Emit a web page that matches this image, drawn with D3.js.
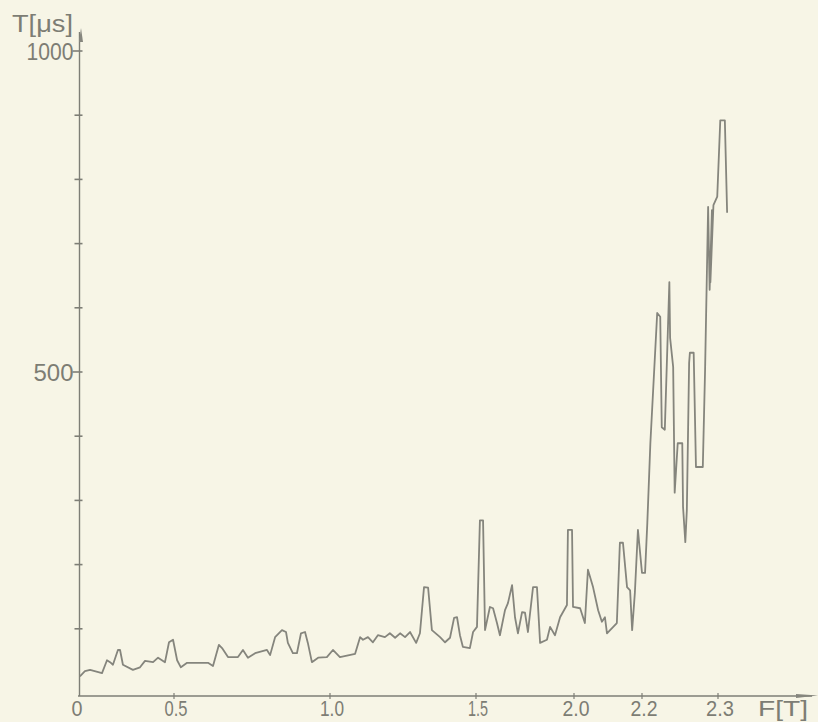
<!DOCTYPE html>
<html>
<head>
<meta charset="utf-8">
<script src="https://cdn.jsdelivr.net/npm/d3@7"></script>
<style>
  html, body { margin: 0; padding: 0; background: #f7f5e6; }
  svg { display: block; }
  text { font-family: "Liberation Sans", "DejaVu Sans", sans-serif; fill: #7d7d74; }
</style>
</head>
<body>
<div id="chart"></div>
<script>
// tick values / labels
var fTicks = [0, 0.5, 1.0, 1.5, 2.0, 2.2, 2.3];
var fTickLabels = ["0", "0.5", "1.0", "1.5", "2.0", "2.2", "2.3"];
var tTicks = [100, 200, 300, 400, 500, 600, 700, 800, 900, 1000];
var tLabelled = [500, 1000];

var fValues = [
  0.010, 0.036, 0.063, 0.125, 0.151, 0.167, 0.182, 0.208, 0.219, 0.234,
  0.286, 0.323, 0.349, 0.391, 0.417, 0.453, 0.474, 0.495, 0.510, 0.522,
  0.542, 0.609, 0.625, 0.644, 0.654, 0.673, 0.705, 0.721, 0.737, 0.760,
  0.798, 0.808, 0.824, 0.846, 0.859, 0.865, 0.881, 0.894, 0.907, 0.920,
  0.929, 0.942, 0.962, 0.990, 1.010, 1.034, 1.086, 1.103, 1.113, 1.130,
  1.147, 1.164, 1.188, 1.205, 1.223, 1.240, 1.257, 1.274, 1.295, 1.308,
  1.322, 1.336, 1.349, 1.377, 1.394, 1.411, 1.425, 1.435, 1.445, 1.455,
  1.479, 1.490, 1.505, 1.520, 1.536, 1.546, 1.571, 1.587, 1.607, 1.622,
  1.648, 1.663, 1.684, 1.699, 1.714, 1.735, 1.750, 1.765, 1.791, 1.811,
  1.827, 1.862, 1.878, 1.903, 1.929, 1.964, 1.969, 1.990, 1.995, 2.018,
  2.032, 2.041, 2.056, 2.071, 2.082, 2.091, 2.097, 2.126, 2.135, 2.144,
  2.156, 2.165, 2.171, 2.179, 2.188, 2.200, 2.204, 2.207, 2.211, 2.220,
  2.224, 2.226, 2.230, 2.236, 2.237, 2.241, 2.243, 2.247, 2.253, 2.254,
  2.257, 2.259, 2.262, 2.263, 2.268, 2.271, 2.280, 2.283, 2.287, 2.289,
  2.292, 2.290, 2.294, 2.299, 2.303, 2.309, 2.312
];
var tValues = [
  26, 34, 36, 31, 51, 48, 44, 67, 67, 44,
  36, 40, 50, 48, 55, 48, 79, 83, 51, 40,
  47, 47, 42, 75, 70, 56, 56, 67, 55, 62,
  67, 59, 87, 98, 95, 78, 62, 62, 93, 95,
  78, 48, 55, 56, 67, 56, 61, 87, 83, 87,
  79, 90, 87, 93, 86, 93, 87, 95, 78, 93,
  165, 164, 98, 87, 79, 86, 117, 118, 90, 72,
  70, 95, 103, 269, 269, 98, 134, 132, 109, 90,
  129, 140, 168, 118, 93, 126, 125, 95, 165, 165,
  78, 83, 103, 90, 118, 137, 254, 254, 134, 132,
  109, 192, 165, 129, 111, 118, 93, 109, 234, 234,
  165, 160, 98, 156, 254, 187, 187, 265, 389, 592,
  586, 414, 410, 640, 553, 508, 312, 389, 389, 290,
  235, 285, 514, 530, 530, 352, 352, 503, 757, 628,
  752, 640, 760, 773, 892, 892, 748
];

var width = 818, height = 722;

var svg = d3.select("#chart")
  .append("svg")
    .attr("width", width)
    .attr("height", height);

svg.append("rect")
  .attr("width", width)
  .attr("height", height)
  .attr("fill", "#f7f5e6");

// non-uniform F axis, one segment per labelled tick
var x = d3.scaleLinear()
  .domain(fTicks)
  .range([78, 174, 330, 476, 574, 642, 718]);

var y = d3.scaleLinear()
  .domain([0, 1000])
  .range([693, 51]);

var axisColor = "#7e7e76";
var x0 = 79.5, yBase = 696;

// y axis line + arrow
svg.append("line")
  .attr("x1", x0).attr("x2", x0)
  .attr("y1", 32).attr("y2", yBase)
  .attr("stroke", axisColor)
  .attr("stroke-width", 1.4);
svg.append("path")
  .attr("d", "M" + (x0 + 1.5) + ",28 L" + (x0 + 3.5) + ",42 L" + (x0 - 0.5) + ",42 Z")
  .attr("fill", "#86867e");

// y ticks
svg.append("g")
  .selectAll("line")
  .data(tTicks)
  .enter()
  .append("line")
    .attr("x1", function(d) { return tLabelled.indexOf(d) >= 0 ? x0 - 7 : x0 - 5; })
    .attr("x2", x0 + 3)
    .attr("y1", function(d) { return y(d); })
    .attr("y2", function(d) { return y(d); })
    .attr("stroke", axisColor)
    .attr("stroke-width", 1.6);

// y tick labels
var yLabW = { 500: 40, 1000: 47 };
svg.append("g")
  .selectAll("text")
  .data(tLabelled)
  .enter()
  .append("text")
    .attr("x", x0 - 6)
    .attr("y", function(d) { return y(d) + 9; })
    .attr("text-anchor", "end")
    .attr("font-size", "24px")
    .attr("textLength", function(d) { return yLabW[d]; })
    .attr("lengthAdjust", "spacingAndGlyphs")
    .text(function(d) { return d; });

svg.append("text")
  .attr("x", 12)
  .attr("y", 32)
  .attr("font-size", "23px")
  .attr("textLength", 61)
  .attr("lengthAdjust", "spacingAndGlyphs")
  .text("T[μs]");

// x axis line + arrow
svg.append("line")
  .attr("x1", 78).attr("x2", 812)
  .attr("y1", yBase).attr("y2", yBase)
  .attr("stroke", axisColor)
  .attr("stroke-width", 1.4);
svg.append("path")
  .attr("d", "M796," + (yBase - 2) + " L818," + (yBase - 0.5) + " L796," + (yBase + 2) + " Z")
  .attr("fill", "#86867e");

// x ticks
svg.append("g")
  .selectAll("line")
  .data(fTicks.slice(1))
  .enter()
  .append("line")
    .attr("x1", function(d) { return x(d); })
    .attr("x2", function(d) { return x(d); })
    .attr("y1", yBase - 3)
    .attr("y2", yBase + 3)
    .attr("stroke", axisColor)
    .attr("stroke-width", 1.2);

// x tick labels (kept above the bottom edge)
var xLabW = [11, 23, 24, 20, 27, 27, 28];
svg.append("g")
  .selectAll("text")
  .data(fTicks)
  .enter()
  .append("text")
    .attr("x", function(d, i) { return x(d) + (i == 0 ? -1 : 2); })
    .attr("y", 716)
    .attr("text-anchor", "middle")
    .attr("font-size", "22px")
    .attr("textLength", function(d, i) { return xLabW[i]; })
    .attr("lengthAdjust", "spacingAndGlyphs")
    .text(function(d, i) { return fTickLabels[i]; });

svg.append("text")
  .attr("x", 758)
  .attr("y", 716)
  .attr("font-size", "22px")
  .attr("textLength", 50)
  .attr("lengthAdjust", "spacingAndGlyphs")
  .text("F[T]");

// the curve
var pts = fValues.map(function(f, i) { return [f, tValues[i]]; });
var line = d3.line()
  .x(function(d) { return x(d[0]); })
  .y(function(d) { return y(d[1]); });

svg.append("path")
  .datum(pts)
  .attr("d", line)
  .attr("fill", "none")
  .attr("stroke", "#85857d")
  .attr("stroke-width", 1.8)
  .attr("stroke-linejoin", "round");
</script>
</body>
</html>
